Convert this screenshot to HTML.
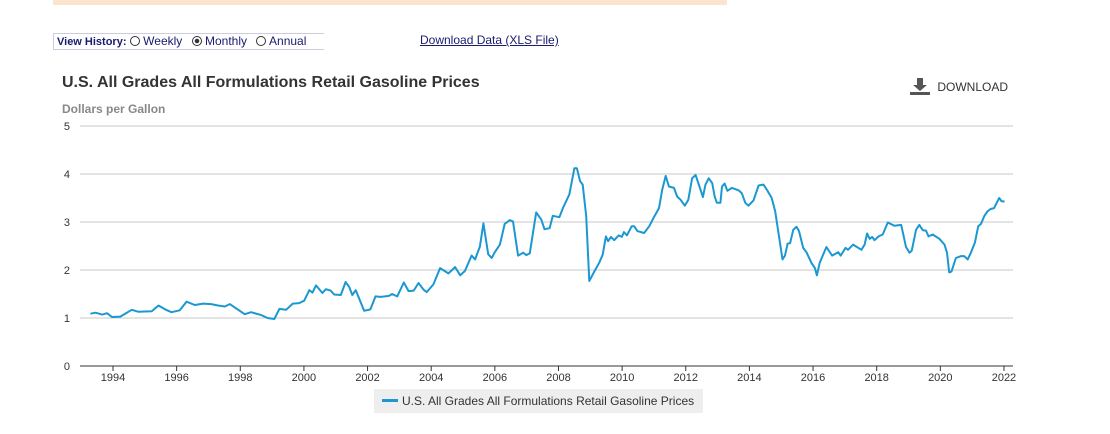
<!DOCTYPE html>
<html><head><meta charset="utf-8"><style>
body{margin:0;width:1110px;height:434px;background:#fff;font-family:"Liberation Sans",Arial,sans-serif;position:relative;overflow:hidden}
.abs{position:absolute}
</style></head><body>
<div class="abs" style="left:53px;top:0;width:674px;height:5px;background:#fbe5cf"></div>
<div class="abs" style="left:53px;top:33px;width:270px;height:15px;border:1px solid #ccd;border-right:none;font-size:12px;color:#1a1a6e;line-height:15px;white-space:nowrap">
<b style="font-size:11px;margin-left:3px">View History:</b>
<span><span style="display:inline-block;width:8px;height:8px;border:1.5px solid #333;border-radius:50%;vertical-align:-1px"></span> Weekly</span>
<span style="margin-left:6px"><span style="display:inline-block;width:8px;height:8px;border:1.5px solid #333;border-radius:50%;vertical-align:-1px;background:radial-gradient(#333 35%,#fff 45%)"></span> Monthly</span>
<span style="margin-left:6px"><span style="display:inline-block;width:8px;height:8px;border:1.5px solid #333;border-radius:50%;vertical-align:-1px"></span> Annual</span>
</div>
<a class="abs" style="left:420px;top:33px;font-size:12px;color:#1a1a6e;text-decoration:underline">Download Data (XLS File)</a>
<div class="abs" style="left:62px;top:74px;font-size:16px;font-weight:bold;color:#333">U.S. All Grades All Formulations Retail Gasoline Prices</div>
<div class="abs" style="left:62px;top:102px;font-size:12px;font-weight:bold;color:#888">Dollars per Gallon</div>
<div class="abs" style="left:910px;top:78px;font-size:12px;color:#333;white-space:nowrap">
<svg width="20" height="17" style="vertical-align:-4px"><path d="M7 0h6v7h4l-7 6-7-6h4z M0 14h20v3H0z" fill="#555"/></svg>
<span style="margin-left:4px">DOWNLOAD</span></div>
<svg class="abs" style="left:0;top:0" width="1110" height="434" id="chart"></svg>
<div class="abs" style="left:374px;top:389px;width:329px;height:24px;background:#eee;font-size:12px;color:#333;line-height:24px;white-space:nowrap">
<span style="display:inline-block;width:16px;height:3px;background:#1b98d1;vertical-align:3px;margin:0 4px 0 8px"></span>U.S. All Grades All Formulations Retail Gasoline Prices</div>
<script>
const yTicks=[0,1,2,3,4,5];
const xTickYears=[1994,1996,1998,2000,2002,2004,2006,2008,2010,2012,2014,2016,2018,2020,2022];
const dates=[1993.29,1993.45,1993.66,1993.81,1993.97,1994.23,1994.59,1994.8,1995.22,1995.43,1995.64,1995.84,1996.1,1996.31,1996.57,1996.83,1997.09,1997.3,1997.51,1997.67,1998.14,1998.34,1998.66,1998.86,1999.07,1999.23,1999.44,1999.65,1999.85,2000.01,2000.17,2000.27,2000.38,2000.58,2000.69,2000.84,2000.95,2001.16,2001.31,2001.42,2001.52,2001.63,2001.89,2002.09,2002.25,2002.41,2002.67,2002.77,2002.93,2003.14,2003.29,2003.45,2003.6,2003.76,2003.86,2004.07,2004.28,2004.54,2004.75,2004.91,2005.06,2005.27,2005.38,2005.53,2005.64,2005.79,2005.9,2006.0,2006.16,2006.31,2006.47,2006.57,2006.73,2006.89,2006.99,2007.1,2007.3,2007.46,2007.56,2007.72,2007.82,2008.03,2008.14,2008.34,2008.5,2008.58,2008.68,2008.76,2008.87,2008.97,2009.13,2009.28,2009.39,2009.49,2009.56,2009.65,2009.75,2009.89,2009.99,2010.06,2010.15,2010.3,2010.38,2010.48,2010.69,2010.85,2011.0,2011.16,2011.26,2011.37,2011.47,2011.63,2011.73,2011.84,2011.97,2012.08,2012.2,2012.31,2012.41,2012.54,2012.62,2012.72,2012.83,2012.91,2012.98,2013.09,2013.14,2013.22,2013.31,2013.45,2013.66,2013.76,2013.87,2013.97,2014.13,2014.29,2014.44,2014.55,2014.7,2014.81,2014.93,2015.04,2015.12,2015.2,2015.28,2015.38,2015.48,2015.56,2015.69,2015.8,2015.95,2016.06,2016.12,2016.21,2016.42,2016.6,2016.79,2016.87,2017.02,2017.1,2017.26,2017.52,2017.62,2017.7,2017.78,2017.86,2017.93,2018.06,2018.19,2018.35,2018.56,2018.77,2018.92,2019.03,2019.1,2019.24,2019.34,2019.45,2019.55,2019.63,2019.76,2019.97,2020.13,2020.21,2020.28,2020.35,2020.49,2020.65,2020.75,2020.86,2020.96,2021.09,2021.19,2021.28,2021.38,2021.48,2021.58,2021.69,2021.85,2021.93,2022.02];
const prices=[1.09,1.11,1.07,1.10,1.02,1.03,1.17,1.13,1.14,1.26,1.18,1.12,1.16,1.34,1.27,1.30,1.29,1.26,1.24,1.29,1.08,1.12,1.06,1.00,0.98,1.19,1.17,1.30,1.31,1.36,1.58,1.53,1.68,1.52,1.60,1.57,1.49,1.48,1.75,1.65,1.48,1.58,1.15,1.18,1.45,1.44,1.46,1.50,1.45,1.74,1.56,1.57,1.73,1.59,1.54,1.70,2.04,1.93,2.06,1.89,1.98,2.30,2.22,2.49,2.97,2.33,2.25,2.37,2.53,2.96,3.04,3.01,2.30,2.36,2.31,2.35,3.20,3.05,2.85,2.87,3.13,3.10,3.29,3.57,4.12,4.12,3.85,3.78,3.12,1.77,1.97,2.15,2.32,2.70,2.60,2.69,2.62,2.72,2.69,2.79,2.72,2.91,2.91,2.81,2.77,2.91,3.10,3.29,3.67,3.96,3.74,3.71,3.53,3.46,3.34,3.46,3.91,3.98,3.78,3.52,3.78,3.91,3.81,3.53,3.40,3.40,3.74,3.80,3.65,3.71,3.66,3.60,3.40,3.34,3.45,3.76,3.78,3.67,3.50,3.22,2.70,2.22,2.30,2.55,2.56,2.84,2.90,2.81,2.46,2.36,2.15,2.04,1.89,2.15,2.48,2.30,2.37,2.30,2.46,2.42,2.53,2.42,2.53,2.76,2.65,2.69,2.62,2.70,2.74,2.99,2.92,2.94,2.48,2.36,2.40,2.84,2.94,2.83,2.82,2.70,2.74,2.65,2.53,2.36,1.95,1.97,2.25,2.29,2.29,2.22,2.36,2.58,2.91,2.96,3.12,3.22,3.27,3.29,3.50,3.43,3.43];
const NS='http://www.w3.org/2000/svg';
const svg=document.getElementById('chart');
const X0=80,X1=1013,Y0=366,Y5=126;
const xs=y=>113+(y-1994)*31.82;
const ys=v=>Y0-(v/5)*(Y0-Y5);
function mk(t,a){const e=document.createElementNS(NS,t);for(const k in a)e.setAttribute(k,a[k]);svg.appendChild(e);return e;}
yTicks.forEach(v=>{
 if(v>0){const l=mk('line',{x1:X0,x2:X1,y1:ys(v),y2:ys(v),stroke:'#c8c8c8','stroke-width':1});
 
 }
 const t=mk('text',{x:70,y:ys(v)+4,'text-anchor':'end','font-size':11,fill:'#333','font-family':'Liberation Sans, sans-serif'});
 t.textContent=v;
 
 
});
const ax=mk('line',{x1:X0,x2:X1,y1:Y0,y2:Y0,stroke:'#333','stroke-width':1});


xTickYears.forEach(yr=>{
 const tk=mk('line',{x1:xs(yr),x2:xs(yr),y1:Y0,y2:Y0+5,stroke:'#333'});
 
 
 const t=mk('text',{x:xs(yr),y:381,'text-anchor':'middle','font-size':11,fill:'#333','font-family':'Liberation Sans, sans-serif'});
 t.textContent=yr;
 
 
});
const d=dates.map((yr,i)=>(i?'L':'M')+xs(yr).toFixed(1)+' '+ys(prices[i]).toFixed(1)).join(' ');
const p=mk('path',{d:d,fill:'none',stroke:'#1b98d1','stroke-width':2,'stroke-linejoin':'round'});


</script>
</body></html>
